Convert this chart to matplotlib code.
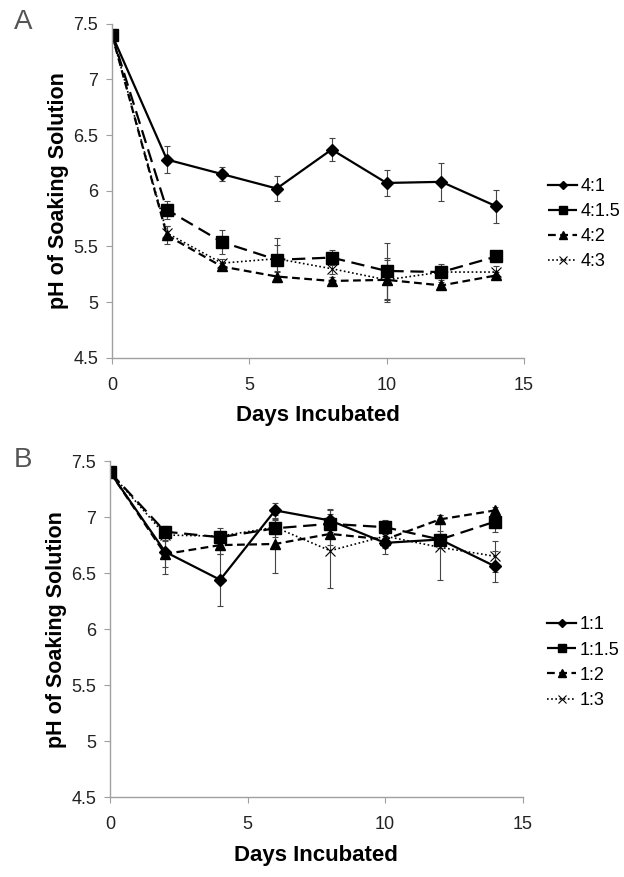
import numpy as np
import matplotlib
matplotlib.use("Agg")
import matplotlib.pyplot as plt
from matplotlib.lines import Line2D

plt.rcParams['font.family'] = ['Liberation Sans', 'DejaVu Sans']

days = [0, 2, 4, 6, 8, 10, 12, 14]

# Panel A - 4:x ratios
a_labels = ['4:1', '4:1.5', '4:2', '4:3']
a_41 = [7.40, 6.28, 6.15, 6.02, 6.37, 6.07, 6.08, 5.86]
a_41_err = [0.0, 0.12, 0.06, 0.11, 0.10, 0.12, 0.17, 0.15]
a_415 = [7.40, 5.83, 5.54, 5.38, 5.40, 5.28, 5.27, 5.41]
a_415_err = [0.0, 0.08, 0.11, 0.20, 0.07, 0.25, 0.07, 0.05]
a_42 = [7.40, 5.60, 5.32, 5.23, 5.19, 5.20, 5.15, 5.24]
a_42_err = [0.0, 0.08, 0.03, 0.05, 0.04, 0.20, 0.03, 0.03]
a_43 = [7.40, 5.62, 5.35, 5.39, 5.30, 5.20, 5.27, 5.27]
a_43_err = [0.0, 0.06, 0.04, 0.12, 0.05, 0.18, 0.05, 0.05]

# Panel B - 1:x ratios
b_labels = ['1:1', '1:1.5', '1:2', '1:3']
b_11 = [7.40, 6.69, 6.44, 7.06, 6.97, 6.77, 6.80, 6.56]
b_11_err = [0.0, 0.20, 0.23, 0.07, 0.10, 0.10, 0.08, 0.14]
b_115 = [7.40, 6.87, 6.82, 6.90, 6.94, 6.91, 6.80, 6.96]
b_115_err = [0.0, 0.05, 0.08, 0.08, 0.12, 0.06, 0.05, 0.09]
b_12 = [7.40, 6.67, 6.75, 6.76, 6.85, 6.80, 6.98, 7.06]
b_12_err = [0.0, 0.12, 0.08, 0.26, 0.10, 0.08, 0.04, 0.03]
b_13 = [7.40, 6.84, 6.83, 6.91, 6.70, 6.83, 6.73, 6.65]
b_13_err = [0.0, 0.04, 0.05, 0.06, 0.33, 0.10, 0.29, 0.14]

styles = [
    dict(marker='D', ms=6, ls='-', lw=1.6),
    dict(marker='s', ms=8, ls=(0, (6, 3)), lw=1.6),
    dict(marker='^', ms=7, ls=(0, (3.5, 2)), lw=1.6),
    dict(marker='x', ms=7, ls=(0, (1, 1.5)), lw=1.2, mew=0.8),
]


def draw_panel(ax, series, errs, labels):
    handles = []
    for y, e, lab, st in zip(series, errs, labels, styles):
        ax.errorbar(days, y, yerr=e, color='black', ecolor='#444444', elinewidth=0.8,
                    capsize=2.5, capthick=0.8, **st)
        st2 = dict(st)
        st2['ms'] = st['ms'] * 0.75
        handles.append(Line2D([], [], color='black', label=lab, **st2))
    ax.set_xlim(0, 15)
    ax.set_ylim(4.5, 7.5)
    ax.set_xticks([0, 5, 10, 15])
    ax.set_yticks([4.5, 5, 5.5, 6, 6.5, 7, 7.5])
    ax.set_yticklabels(['4.5', '5', '5.5', '6', '6.5', '7', '7.5'])
    for side in ['top', 'right']:
        ax.spines[side].set_visible(False)
    for side in ['left', 'bottom']:
        ax.spines[side].set_color('#a0a0a0')
        ax.spines[side].set_linewidth(1.0)
    ax.tick_params(colors='#a0a0a0', labelcolor='#222222', labelsize=13, length=4)
    ax.tick_params(axis='y', pad=6)
    ax.tick_params(axis='x', pad=10)
    ax.set_xlabel('Days Incubated', fontsize=16, fontweight='bold', labelpad=8)
    ax.set_ylabel('pH of Soaking Solution', fontsize=15.5, fontweight='bold', labelpad=3)
    ax.legend(handles=handles, loc='center left', bbox_to_anchor=(1.02, 0.40), frameon=False,
              fontsize=13, handlelength=1.6, handletextpad=0.2, labelspacing=0.45)


fig = plt.figure(figsize=(6.24, 8.77), dpi=100)
ax1 = fig.add_axes([0.1795, 0.592, 0.660, 0.381])
ax2 = fig.add_axes([0.1765, 0.0912, 0.661, 0.383])

draw_panel(ax1, [a_41, a_415, a_42, a_43], [a_41_err, a_415_err, a_42_err, a_43_err], a_labels)
draw_panel(ax2, [b_11, b_115, b_12, b_13], [b_11_err, b_115_err, b_12_err, b_13_err], b_labels)

fig.text(0.022, 0.975, 'A', fontsize=20, color='#555555', va='center', ha='left')
fig.text(0.022, 0.475, 'B', fontsize=20, color='#555555', va='center', ha='left')

fig.savefig('out.png', dpi=100)
